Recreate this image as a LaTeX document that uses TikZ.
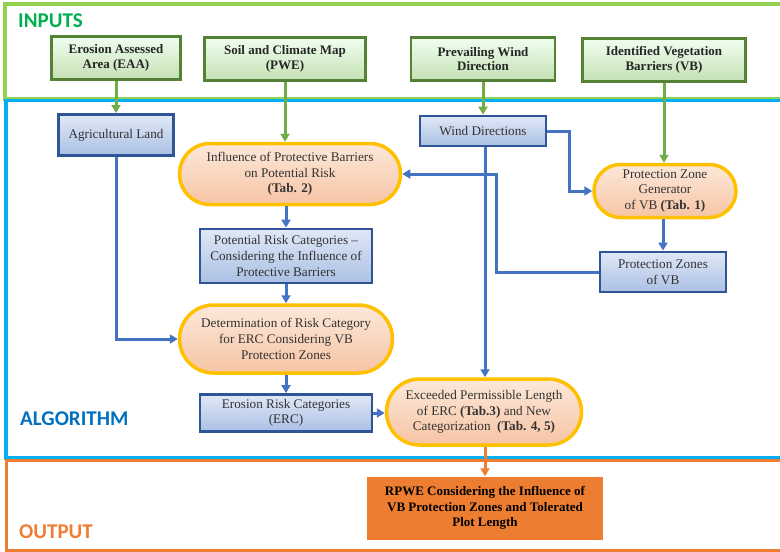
\documentclass[tikz,border=0pt]{standalone}
\usepackage{fontspec}
\setmainfont{Liberation Serif}
\newfontfamily\labelfont{Carlito}
\usepackage{tikz}
\usetikzlibrary{arrows.meta, positioning, shapes.misc, calc}

\definecolor{framegreen}{HTML}{92D050}
\definecolor{textgreen}{HTML}{00B050}
\definecolor{frameblue}{HTML}{00B0F0}
\definecolor{textblue}{HTML}{0070C0}
\definecolor{frameorange}{HTML}{ED7D31}
\definecolor{boxgreen}{HTML}{548235}
\definecolor{boxblue}{HTML}{2F5597}
\definecolor{linkblue}{HTML}{4472C4}
\definecolor{linkgreen}{HTML}{70AD47}
\definecolor{pillgold}{HTML}{FFC000}

\begin{document}
\begin{tikzpicture}[
  x=1pt, y=-1pt,
  inbox/.style={rectangle, draw=boxgreen, line width=2.8pt, top color=green!6!white, bottom color={rgb,255:red,197;green,224;blue,180},
    inner sep=0pt, align=center, font=\fontsize{13}{14.5}\selectfont\bfseries, text=black!85},
  algbox/.style={rectangle, draw=boxblue, line width=2.8pt, top color={rgb,255:red,224;green,232;blue,246}, bottom color={rgb,255:red,170;green,192;blue,228},
    inner sep=0pt, align=center, font=\fontsize{13.2}{15.6}\selectfont, text=black!80},
  pill/.style={rounded rectangle, draw=pillgold, line width=3.5pt, top color={rgb,255:red,252;green,232;blue,218}, bottom color={rgb,255:red,246;green,196;blue,164},
    inner sep=0pt, align=center, font=\fontsize{13.2}{15.6}\selectfont, text=black!80},
  outbox/.style={rectangle, fill=frameorange, inner sep=0pt, align=center, font=\fontsize{13}{15.6}\selectfont\bfseries, text=black},
  zonelabel/.style={anchor=west, inner sep=0pt, font=\fontsize{21}{21}\selectfont\labelfont\bfseries},
  garrow/.style={-{Triangle[width=9pt,length=8pt]}, line width=3pt, draw=linkgreen},
  barrow/.style={-{Triangle[width=9pt,length=8pt]}, line width=3pt, draw=linkblue},
  oarrow/.style={-{Triangle[width=9pt,length=8pt]}, line width=3pt, draw=frameorange}
]
  \useasboundingbox (0,0) rectangle (780,552);
  \clip (0,0) rectangle (780,552);
  % Zone frames
  \draw[framegreen, line width=3.5pt] (790,4) -- (5,4) -- (5,99) -- (790,99);
  \draw[frameblue, line width=3.5pt] (790,100.5) -- (6,100.5) -- (6,458) -- (790,458);
  \draw[frameorange, line width=3pt] (790,460) -- (6,460) -- (6,550) -- (790,550);
  \node[zonelabel, text=textgreen] (inlabel) at (18,21) {INPUTS};
  \node[zonelabel, text=textblue] (alglabel) at (20,419) {ALGORITHM};
  \node[zonelabel, text=frameorange] (outlabel) at (19,532) {OUTPUT};
  % Inputs
  \node[inbox, minimum width=129pt, minimum height=43pt] (eaa) at (116,58) {Erosion Assessed\\Area (EAA)};
  \node[inbox, minimum width=161pt, minimum height=43pt] (pwe) at (285,59) {Soil and Climate Map\\(PWE)};
  \node[inbox, minimum width=144pt, minimum height=43pt] (pwd) at (483,59) {Prevailing Wind\\Direction};
  \node[inbox, minimum width=163pt, minimum height=43pt] (ivb) at (664,60) {Identified Vegetation\\Barriers (VB)};
  % Algorithm
  \node[algbox, minimum width=115pt, minimum height=41pt] (agri) at (116,135) {Agricultural Land};
  \node[pill, minimum width=221pt, minimum height=61pt] (infl) at (290,174) {Influence of Protective Barriers\\on Potential Risk\\\textbf{(Tab. 2)}};
  \node[algbox, minimum width=172pt, minimum height=54pt] (prc) at (286,256) {Potential Risk Categories --\\Considering the Influence of\\Protective Barriers};
  \node[algbox, minimum width=126pt, minimum height=30pt] (wdir) at (483,131) {Wind Directions};
  \node[pill, minimum width=142pt, minimum height=53pt] (pzg) at (665,191) {Protection Zone\\Generator\\of VB \textbf{(Tab. 1)}};
  \node[algbox, minimum width=126pt, minimum height=40pt] (pzvb) at (663,272) {Protection Zones\\of VB};
  \node[pill, minimum width=213pt, minimum height=68pt] (det) at (286,339) {Determination of Risk Category\\for ERC Considering VB\\Protection Zones};
  \node[algbox, minimum width=172pt, minimum height=37pt] (erc) at (286,413) {Erosion Risk Categories\\(ERC)};
  \node[pill, minimum width=195pt, minimum height=66pt] (exc) at (484,412) {Exceeded Permissible Length\\of ERC \textbf{(Tab.3)} and New\\Categorization~~\textbf{(Tab. 4, 5)}};
  % Output
  \node[outbox, minimum width=236pt, minimum height=63pt] (rpwe) at (485,508) {RPWE Considering the Influence of\\VB Protection Zones and Tolerated\\Plot Length};
  % Arrows
  \draw[garrow] (eaa) -- (agri);
  \draw[garrow] (pwe.south) -- (pwe.south |- infl.north);
  \draw[garrow] (pwd) -- (wdir);
  \draw[garrow] (ivb.south) -- (ivb.south |- pzg.north);
  \draw[barrow] (agri) |- (det);
  \draw[barrow] (infl.south -| prc) -- (prc);
  \draw[barrow] (prc) -- (det.north -| prc);
  \draw[barrow] (det.south -| erc) -- (erc);
  \draw[barrow] (erc) -- (erc -| exc.west);
  \draw[barrow] (wdir.east) -- ++(22,0) |- (pzg);
  \draw[barrow] (pzg.south -| pzvb) -- (pzvb);
  \draw[barrow] (pzvb.west) -- ++(-102,0) |- (infl);
  \draw[barrow] ($(wdir.south)+(2,0)$) -- ($(wdir.south |- exc.north)+(2,0)$);
  \draw[oarrow] (exc.south -| rpwe) -- (rpwe);
\end{tikzpicture}
\end{document}
